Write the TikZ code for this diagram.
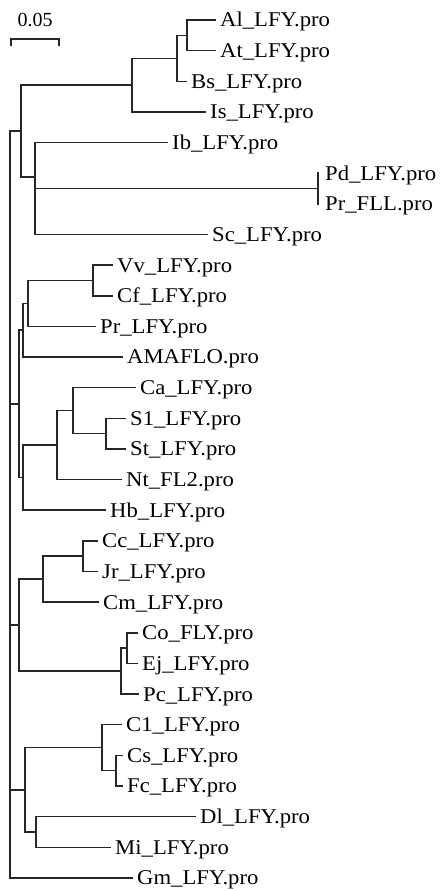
\documentclass[tikz,border=0pt]{standalone}
\usepackage{fontspec}
\setmainfont{Liberation Serif}
\newfontfamily\lblfont[FakeStretch=1.08]{Liberation Serif}
\tikzset{
  br/.style={line width=1.5pt, draw=black!85, line cap=rect},
  lbl/.style={anchor=west, inner xsep=5pt, inner ysep=0pt, font=\lblfont\fontsize{21}{21}\selectfont, text height=13.9pt, text depth=0pt},
  sclbl/.style={inner sep=0pt, font=\fontsize{20}{20}\selectfont, text height=13.2pt, text depth=0pt},
}
\begin{document}
\begin{tikzpicture}[x=1pt,y=-1pt]
\useasboundingbox (0,0) rectangle (444,891);
% scale bar
\coordinate (sbL) at (11,39);
\coordinate (sbR) at (59,39);
\node[sclbl] (sbt) at (35,19.5) {0.05};
\draw[line width=1.2pt, black!85] ([yshift=-7pt]sbL) -- (sbL) -- (sbR) -- ([yshift=-7pt]sbR);
% leaf labels
\node[lbl] (Al) at (215,20.0) {Al\_LFY.pro};
\node[lbl] (At) at (215,50.6) {At\_LFY.pro};
\node[lbl] (Bs) at (186,81.3) {Bs\_LFY.pro};
\node[lbl] (Is) at (205,111.9) {Is\_LFY.pro};
\node[lbl] (Ib) at (167,142.6) {Ib\_LFY.pro};
\node[lbl, inner xsep=7pt] (Pd) at (318,173.2) {Pd\_LFY.pro};
\node[lbl, inner xsep=7pt] (PrF) at (318,203.8) {Pr\_FLL.pro};
\node[lbl] (Sc) at (207,234.5) {Sc\_LFY.pro};
\node[lbl] (Vv) at (112,265.1) {Vv\_LFY.pro};
\node[lbl] (Cf) at (112,295.8) {Cf\_LFY.pro};
\node[lbl] (PrL) at (95,326.4) {Pr\_LFY.pro};
\node[lbl] (AMA) at (122,357.0) {AMAFLO.pro};
\node[lbl] (Ca) at (135,387.7) {Ca\_LFY.pro};
\node[lbl] (S1) at (125,418.3) {S1\_LFY.pro};
\node[lbl] (St) at (125,448.9) {St\_LFY.pro};
\node[lbl] (Nt) at (121,479.6) {Nt\_FL2.pro};
\node[lbl] (Hb) at (105,510.2) {Hb\_LFY.pro};
\node[lbl] (Cc) at (97,540.9) {Cc\_LFY.pro};
\node[lbl] (Jr) at (97,571.5) {Jr\_LFY.pro};
\node[lbl] (Cm) at (98,602.2) {Cm\_LFY.pro};
\node[lbl] (Co) at (137,632.8) {Co\_FLY.pro};
\node[lbl] (Ej) at (137,663.4) {Ej\_LFY.pro};
\node[lbl] (Pc) at (138,694.1) {Pc\_LFY.pro};
\node[lbl] (C1) at (121,724.7) {C1\_LFY.pro};
\node[lbl] (Cs) at (122,755.4) {Cs\_LFY.pro};
\node[lbl] (Fc) at (122,786.0) {Fc\_LFY.pro};
\node[lbl] (Dl) at (195,816.6) {Dl\_LFY.pro};
\node[lbl] (Mi) at (110,847.3) {Mi\_LFY.pro};
\node[lbl] (Gm) at (132,877.9) {Gm\_LFY.pro};
% internal nodes
\coordinate (nAlAt) at (187,35.3);
\coordinate (nBra) at (177,58.3);
\coordinate (nIs) at (132,85.1);
\coordinate (nPd) at (318,188.5);
\coordinate (nPdSc) at (35,211.5);
\coordinate (nIb) at (35,177.05);
\coordinate (nTop) at (21,131.1);
\coordinate (nVvCf) at (93,280.45);
\coordinate (nVv) at (28,303.4);
\coordinate (nAMA) at (23,330.2);
\coordinate (nS1) at (106,433.6);
\coordinate (nCa) at (73,410.65);
\coordinate (n57) at (57,445.1);
\coordinate (nHb) at (23,477.7);
\coordinate (nMid) at (19,403.9);
\coordinate (nCcJr) at (83,556.2);
\coordinate (nCm) at (43,579.2);
\coordinate (nCo) at (127,648.1);
\coordinate (nPc) at (121,671.1);
\coordinate (nLow) at (19,625.2);
\coordinate (nCsFc) at (116,770.7);
\coordinate (nC1) at (102,747.7);
\coordinate (nDlMi) at (36,832.0);
\coordinate (nB) at (25,789.8);
\coordinate (root) at (10,131.1);
% branches
\draw[br] (nAlAt) |- (Al.west);
\draw[br] (nAlAt) |- (At.west);
\draw[br] (nBra) |- (nAlAt);
\draw[br] (nBra) |- (Bs.west);
\draw[br] (nIs) |- (nBra);
\draw[br] (nIs) |- (Is.west);
\draw[br] (nPd) -- (Pd.west);
\draw[br] (nPd) -- (PrF.west);
\draw[br] (nPdSc) |- (nPd);
\draw[br] (nPdSc) |- (Sc.west);
\draw[br] (nIb) |- (Ib.west);
\draw[br] (nIb) |- (nPdSc);
\draw[br] (nTop) |- (nIs);
\draw[br] (nTop) |- (nIb);
\draw[br] (nVvCf) |- (Vv.west);
\draw[br] (nVvCf) |- (Cf.west);
\draw[br] (nVv) |- (nVvCf);
\draw[br] (nVv) |- (PrL.west);
\draw[br] (nAMA) |- (nVv);
\draw[br] (nAMA) |- (AMA.west);
\draw[br] (nS1) |- (S1.west);
\draw[br] (nS1) |- (St.west);
\draw[br] (nCa) |- (Ca.west);
\draw[br] (nCa) |- (nS1);
\draw[br] (n57) |- (nCa);
\draw[br] (n57) |- (Nt.west);
\draw[br] (nHb) |- (n57);
\draw[br] (nHb) |- (Hb.west);
\draw[br] (nMid) |- (nAMA);
\draw[br] (nMid) |- (nHb);
\draw[br] (nCcJr) |- (Cc.west);
\draw[br] (nCcJr) |- (Jr.west);
\draw[br] (nCm) |- (nCcJr);
\draw[br] (nCm) |- (Cm.west);
\draw[br] (nCo) |- (Co.west);
\draw[br] (nCo) |- (Ej.west);
\draw[br] (nPc) |- (nCo);
\draw[br] (nPc) |- (Pc.west);
\draw[br] (nLow) |- (nCm);
\draw[br] (nLow) |- (nPc);
\draw[br] (nCsFc) |- (Cs.west);
\draw[br] (nCsFc) |- (Fc.west);
\draw[br] (nC1) |- (C1.west);
\draw[br] (nC1) |- (nCsFc);
\draw[br] (nDlMi) |- (Dl.west);
\draw[br] (nDlMi) |- (Mi.west);
\draw[br] (nB) |- (nC1);
\draw[br] (nB) |- (nDlMi);
\draw[br] (root) -- (nTop);
\draw[br] (root) |- (nMid);
\draw[br] (root) |- (nLow);
\draw[br] (root) |- (nB);
\draw[br] (root) |- (Gm.west);
\end{tikzpicture}
\end{document}
